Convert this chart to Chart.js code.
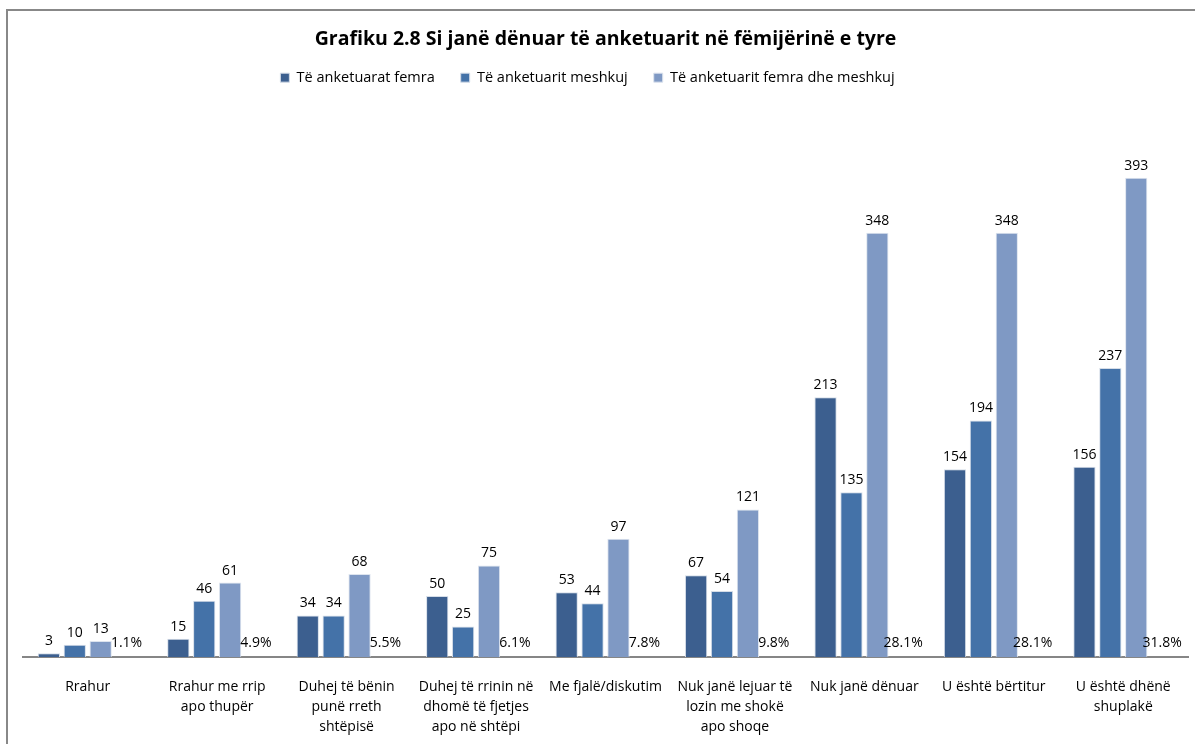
<!DOCTYPE html>
<html>
<head>
<meta charset="utf-8">
<script src="https://cdn.jsdelivr.net/npm/chart.js@4.4.1/dist/chart.umd.min.js"></script>
<style>
    html, body { margin: 0; padding: 0; background: #ffffff; overflow: hidden; }
    #frame {
        position: absolute;
        left: 6px;
        top: 9px;
        border-top: 2px solid #888888;
        border-left: 2px solid #888888;
    }
    canvas { display: block; }
</style>
</head>
<body>
<div id="frame">
    <canvas id="chart" width="1200" height="754"></canvas>
</div>
<script>
const categories = [
    ['Rrahur'],
    ['Rrahur me rrip', 'apo thupër'],
    ['Duhej të bënin', 'punë rreth', 'shtëpisë'],
    ['Duhej të rrinin në', 'dhomë të fjetjes', 'apo në shtëpi'],
    ['Me fjalë/diskutim'],
    ['Nuk janë lejuar të', 'lozin me shokë', 'apo shoqe'],
    ['Nuk janë dënuar'],
    ['U është bërtitur'],
    ['U është dhënë', 'shuplakë']
];

const seriesNames = [
    'Të anketuarat femra',
    'Të anketuarit meshkuj',
    'Të anketuarit femra dhe meshkuj'
];

const femra = [3, 15, 34, 50, 53, 67, 213, 154, 156];
const meshkuj = [10, 46, 34, 25, 44, 54, 135, 194, 237];
const gjithsej = [13, 61, 68, 75, 97, 121, 348, 348, 393];
// share of all answers, kept as fractions (shown as %)
const perqindja = [0.011, 0.049, 0.055, 0.061, 0.078, 0.098, 0.281, 0.281, 0.318];

const FONT = 'Open Sans';

// value labels above each bar (the 4th series carries the percentages)
const barLabels = {
    id: 'barLabels',
    afterDatasetsDraw(chart) {
        const ctx = chart.ctx;
        ctx.save();
        ctx.font = '14px "' + FONT + '"';
        ctx.fillStyle = '#000000';
        ctx.textAlign = 'center';
        ctx.textBaseline = 'bottom';
        chart.data.datasets.forEach((ds, i) => {
            const meta = chart.getDatasetMeta(i);
            meta.data.forEach((bar, j) => {
                const v = ds.data[j];
                const txt = ds.isPercent ? (v * 100).toFixed(1) + '%' : String(v);
                ctx.fillText(txt, bar.x, bar.y - (ds.isPercent ? 7 : 5));
            });
        });
        ctx.restore();
    }
};

// legend sits a little left of the title in the original
const legendShift = {
    id: 'legendShift',
    afterLayout(chart) {
        chart.legend.left -= 18;
        chart.legend.right -= 18;
    }
};

new Chart(document.getElementById('chart').getContext('2d'), {
    type: 'bar',
    data: {
        labels: categories,
        datasets: [
            {
                label: seriesNames[0],
                data: femra,
                backgroundColor: '#3C5F8F',
                borderColor: '#D5DDE8',
                borderWidth: 1
            },
            {
                label: seriesNames[1],
                data: meshkuj,
                backgroundColor: '#4472A8',
                borderColor: '#D5DDE8',
                borderWidth: 1
            },
            {
                label: seriesNames[2],
                data: gjithsej,
                backgroundColor: '#7F99C4',
                borderColor: '#DDE4EE',
                borderWidth: 1
            },
            {
                label: '%',
                data: perqindja,
                isPercent: true,
                backgroundColor: 'rgba(0,0,0,0)',
                borderWidth: 0
            }
        ]
    },
    options: {
        responsive: false,
        animation: false,
        categoryPercentage: 0.8,
        barPercentage: 0.86,
        layout: {
            padding: { left: 15, right: 20, top: 0, bottom: 8 }
        },
        plugins: {
            title: {
                display: true,
                text: 'Grafiku 2.8 Si janë dënuar të anketuarit në fëmijërinë e tyre',
                color: '#000000',
                font: { family: FONT, size: 19.5, weight: 'bold' },
                padding: { top: 17, bottom: -7 }
            },
            legend: {
                position: 'top',
                labels: {
                    boxWidth: 9,
                    boxHeight: 9,
                    padding: 26,
                    color: '#000000',
                    font: { family: FONT, size: 14.5 },
                    filter: (item) => item.datasetIndex < 3
                }
            },
            tooltip: { enabled: false }
        },
        scales: {
            x: {
                grid: { display: false, drawTicks: false },
                border: { display: true, color: '#868686', width: 2 },
                ticks: {
                    color: '#000000',
                    padding: 20,
                    maxRotation: 0,
                    autoSkip: false,
                    font: { family: FONT, size: 14, lineHeight: 1.43 }
                }
            },
            y: {
                display: false,
                min: 0,
                max: 461
            }
        }
    },
    plugins: [barLabels, legendShift]
});
</script>
</body>
</html>
